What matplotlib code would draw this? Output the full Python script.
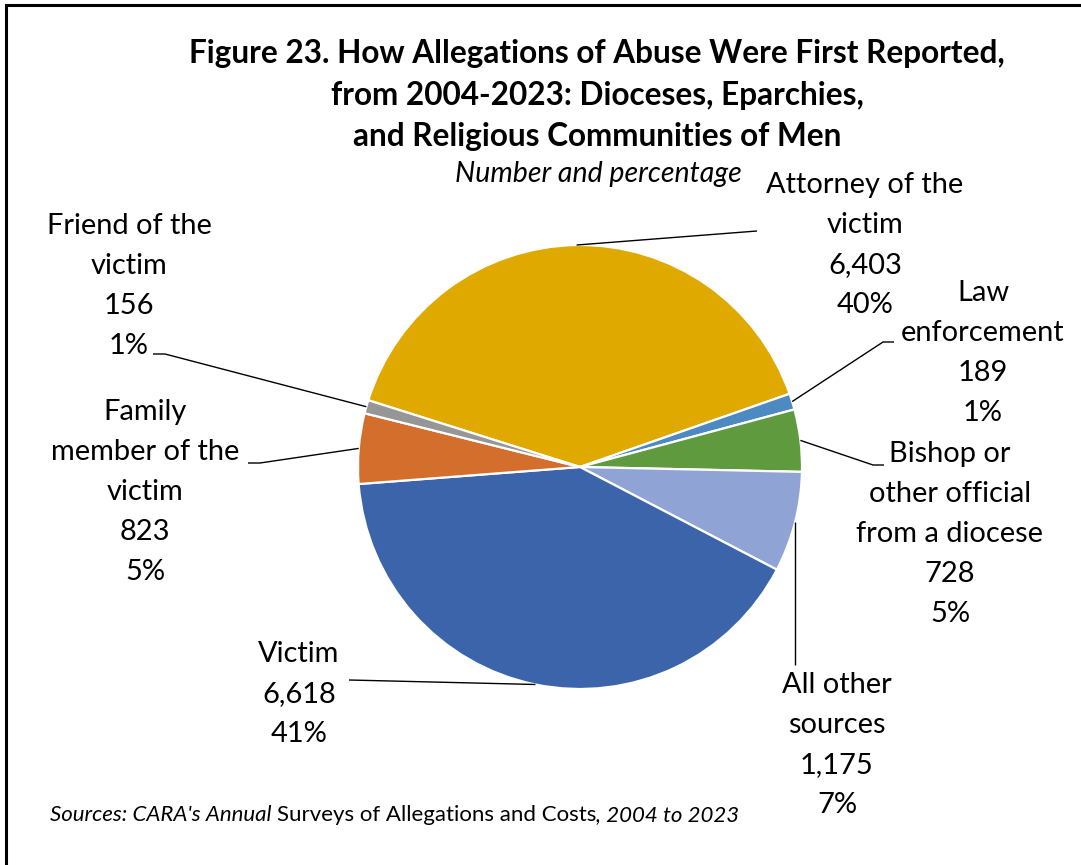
import numpy as np
import matplotlib
matplotlib.use('Agg')
from matplotlib import pyplot as plt

plt.rcParams['font.family'] = ['Lato', 'DejaVu Sans']

W, H = 1081, 865

# categories in clockwise order, starting with the attorney slice
sources = ['Attorney of the\nvictim', 'Law\nenforcement', 'Bishop or\nother official\nfrom a diocese',
           'All other\nsources', 'Victim', 'Family\nmember of the\nvictim', 'Friend of the\nvictim']
counts = [6403, 189, 728, 1175, 6618, 823, 156]
pcts = ['40%', '1%', '5%', '7%', '41%', '5%', '1%']
colors = ['#E0A900', '#4E8AC2', '#5F9A3E', '#8FA3D4', '#3C64AA', '#D46E2C', '#969696']

def Y(y):
    # pixel rows are counted from the top
    return H - y

fig = plt.figure(figsize=(W / 100, H / 100), dpi=100)
ax = fig.add_axes([0, 0, 1, 1])

cx, cy, r = 580, Y(467), 222
wedges, _ = ax.pie(counts, colors=colors, startangle=162.5, counterclock=False,
                   radius=r, center=(cx, cy),
                   wedgeprops=dict(edgecolor='white', linewidth=1.6))
ax.set_xlim(0, W)
ax.set_ylim(0, H)
ax.set_aspect('auto')
ax.axis('off')

# label block centre, leader elbow, end of short horizontal tick
layout = [
    ((865, 245), [(757, 231)]),
    ((983, 353), [(883, 342), (894, 342)]),
    ((950, 534), [(873, 465), (884, 465)]),
    ((837, 745), [(797, 665)]),
    ((299, 694), [(349, 680)]),
    ((145, 492), [(260, 463), (248, 463)]),
    ((129, 286), [(165, 354), (153, 354)]),
]

for w, name, n, p, (pos, pts) in zip(wedges, sources, counts, pcts, layout):
    mid = np.deg2rad((w.theta1 + w.theta2) / 2)
    x0, y0 = cx + r * np.cos(mid), cy + r * np.sin(mid)
    xs = [x0] + [q[0] for q in pts]
    ys = [y0] + [Y(q[1]) for q in pts]
    if name.startswith('All other'):
        xs[1] = x0
    ax.plot(xs, ys, color='black', lw=1.0, solid_capstyle='butt')
    ax.text(pos[0], Y(pos[1]), f'{name}\n{n:,}\n{p}', ha='center', va='center',
            fontsize=20.9, linespacing=1.66)

title = ('Figure 23. How Allegations of Abuse Were First Reported,\n'
         'from 2004-2023: Dioceses, Eparchies,\nand Religious Communities of Men')
ax.text(597, Y(95), title, ha='center', va='center', fontsize=22.7,
        fontweight='bold', linespacing=1.53)
ax.text(598, Y(174), 'Number and percentage', ha='center', va='center',
        fontsize=20.5, style='italic')

# source note with mixed italic / upright runs
parts = [("Sources: CARA's Annual ", 'italic'), ('Surveys of Allegations and Costs', 'normal'),
         (', 2004 to 2023', 'italic')]
fig.canvas.draw()
renderer = fig.canvas.get_renderer()
x = 50
for txt, st in parts:
    t = ax.text(x, Y(815), txt, ha='left', va='center', fontsize=16, style=st)
    bb = t.get_window_extent(renderer)
    x += bb.width

# frame along the left and top edges
ax.plot([6, 6, W], [0, Y(5), Y(5)], color='black', lw=2.2, solid_joinstyle='miter')

fig.savefig('out.png', dpi=100)
